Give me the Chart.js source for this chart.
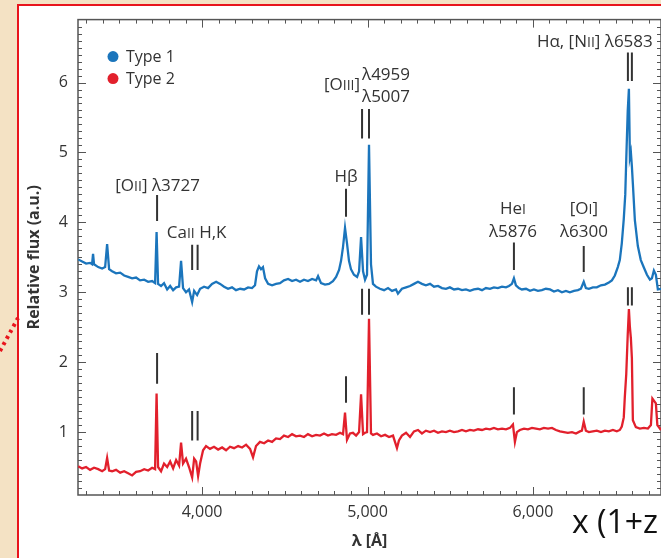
<!DOCTYPE html>
<html>
<head>
<meta charset="utf-8">
<script src="https://cdn.jsdelivr.net/npm/chart.js@4.4.0/dist/chart.umd.min.js"></script>
<style>
  html, body { margin: 0; padding: 0; width: 661px; height: 558px; overflow: hidden; background: #f4e2c4; }
  #frame { position: absolute; left: 17px; top: 4px; width: 660px; height: 560px; background: #fff;
           border-left: 2px solid #e8141c; border-top: 2px solid #e8141c; }
  #wrap { position: absolute; left: 0; top: 0; width: 661px; height: 558px; }
  #dots { position: absolute; left: 0; top: 0; }
  #zlabel { position: absolute; left: 572px; top: 499px; font: 32px 'Open Sans', sans-serif; color: #111; white-space: nowrap; }
</style>
</head>
<body>
<div id="frame"></div>
<svg id="dots" width="30" height="360"><line x1="0" y1="351" x2="18" y2="318" stroke="#e8141c" stroke-width="4" stroke-dasharray="3 4"/></svg>
<div id="wrap"><canvas id="myChart" width="661" height="558"></canvas></div>
<div id="zlabel">x (1+z</div>
<script>
// wavelengths (Angstrom) and relative flux
const type1Wave = [
  3251,3275,3299,3323,3335,3341,3347,3372,3396,3414,
  3426,3438,3456,3480,3505,3529,3553,3577,3601,3625,
  3650,3674,3698,3716,3725,3734,3752,3770,3789,3807,
  3825,3843,3861,3873,3885,3903,3921,3940,3952,3970,
  3988,4012,4036,4060,4085,4109,4133,4157,4181,4205,
  4230,4254,4278,4302,4320,4332,4344,4356,4368,4381,
  4399,4423,4447,4471,4495,4520,4544,4568,4592,4616,
  4640,4665,4689,4701,4719,4743,4767,4791,4810,4828,
  4840,4852,4864,4876,4888,4900,4918,4937,4949,4961,
  4973,4985,4997,5009,5021,5033,5051,5075,5100,5124,
  5148,5172,5184,5208,5233,5257,5281,5305,5329,5353,
  5378,5402,5426,5450,5474,5498,5523,5547,5571,5595,
  5619,5643,5668,5692,5716,5740,5764,5788,5813,5837,
  5855,5873,5885,5897,5915,5933,5958,5982,6006,6030,
  6054,6078,6103,6127,6151,6175,6199,6223,6248,6272,
  6290,6307,6320,6338,6362,6386,6411,6435,6459,6477,
  6495,6513,6525,6537,6549,6558,6564,6573,6580,6586,
  6592,6598,6604,6616,6634,6652,6671,6689,6707,6719,
  6731,6743,6755,6774
];
const type1Flux = [
  3.47,3.44,3.41,3.42,3.40,3.55,3.40,3.36,3.34,3.36,
  3.69,3.33,3.30,3.27,3.28,3.24,3.22,3.20,3.21,3.17,
  3.18,3.15,3.16,3.13,3.86,3.12,3.09,3.13,3.04,3.09,
  3.03,3.07,3.08,3.45,3.06,3.00,3.04,2.86,3.02,2.96,
  3.05,3.08,3.06,3.12,3.15,3.12,3.08,3.05,3.07,3.03,
  3.05,3.04,3.07,3.06,3.10,3.30,3.37,3.33,3.36,3.20,
  3.12,3.10,3.12,3.13,3.17,3.19,3.16,3.18,3.15,3.18,
  3.16,3.19,3.17,3.23,3.13,3.11,3.12,3.16,3.22,3.32,
  3.45,3.65,3.92,3.70,3.45,3.33,3.25,3.22,3.30,3.79,
  3.30,3.18,3.25,5.11,3.40,3.12,3.08,3.05,3.03,3.06,
  3.02,3.04,2.98,3.05,3.07,3.09,3.12,3.15,3.12,3.10,
  3.12,3.08,3.09,3.06,3.05,3.07,3.04,3.05,3.03,3.04,
  3.02,3.04,3.05,3.03,3.06,3.05,3.07,3.06,3.08,3.07,
  3.09,3.12,3.20,3.10,3.06,3.04,3.05,3.02,3.04,3.02,
  3.03,3.05,3.04,3.01,3.03,3.00,3.02,3.00,3.02,3.03,
  3.05,3.15,3.06,3.05,3.07,3.07,3.10,3.11,3.14,3.17,
  3.24,3.36,3.46,3.70,4.05,4.40,4.90,5.60,5.91,4.93,
  5.00,4.80,4.55,4.03,3.66,3.46,3.35,3.25,3.18,3.20,
  3.31,3.25,3.04,3.05
];
const type2Wave = [
  3251,3275,3299,3323,3347,3372,3396,3414,3426,3438,
  3456,3480,3505,3529,3553,3577,3601,3625,3650,3674,
  3698,3716,3725,3734,3752,3770,3789,3807,3825,3843,
  3861,3873,3885,3903,3921,3940,3952,3964,3976,3988,
  4006,4024,4048,4072,4097,4121,4145,4169,4193,4218,
  4242,4266,4290,4308,4326,4350,4375,4399,4423,4447,
  4471,4495,4520,4544,4568,4592,4616,4640,4665,4689,
  4713,4737,4761,4785,4810,4834,4852,4864,4876,4894,
  4912,4931,4949,4961,4973,4985,4997,5009,5021,5033,
  5057,5082,5106,5130,5154,5178,5190,5208,5233,5257,
  5281,5305,5329,5353,5378,5402,5426,5450,5474,5498,
  5523,5547,5571,5595,5619,5643,5668,5692,5716,5740,
  5764,5788,5813,5837,5861,5879,5891,5903,5921,5946,
  5970,5994,6018,6042,6066,6091,6115,6139,6163,6187,
  6211,6236,6260,6284,6296,6307,6320,6338,6362,6386,
  6411,6435,6459,6483,6507,6525,6537,6549,6555,6564,
  6573,6580,6586,6592,6598,6604,6622,6646,6671,6695,
  6713,6722,6731,6743,6752,6774
];
const type2Flux = [
  0.51,0.48,0.50,0.46,0.49,0.47,0.44,0.47,0.63,0.45,
  0.44,0.46,0.42,0.44,0.41,0.38,0.43,0.44,0.47,0.45,
  0.49,0.47,1.55,0.50,0.44,0.55,0.50,0.58,0.48,0.60,
  0.52,0.85,0.55,0.62,0.50,0.35,0.62,0.58,0.37,0.55,
  0.74,0.80,0.76,0.79,0.75,0.78,0.74,0.79,0.77,0.80,
  0.78,0.82,0.76,0.64,0.80,0.86,0.84,0.88,0.86,0.91,
  0.90,0.95,0.93,0.97,0.94,0.95,0.93,0.97,0.94,0.96,
  0.95,0.98,0.95,0.97,0.96,0.99,0.97,1.28,0.89,0.98,
  0.99,0.95,1.00,1.54,0.97,0.99,1.00,2.62,0.98,0.96,
  0.98,0.94,0.96,0.93,0.95,0.77,0.88,0.95,0.99,0.93,
  1.01,1.03,0.98,1.02,1.00,1.02,0.99,1.01,1.00,1.02,
  1.00,1.01,1.03,1.01,1.03,1.02,1.04,1.03,1.05,1.04,
  1.06,1.04,1.05,1.04,1.06,1.11,0.86,1.00,1.03,1.05,
  1.04,1.06,1.05,1.04,1.06,1.05,1.06,1.03,1.01,1.00,
  0.99,1.00,0.98,1.01,1.02,1.15,1.02,1.00,1.01,1.02,
  1.00,1.02,1.01,1.03,1.01,1.03,1.08,1.21,1.49,1.83,
  2.40,2.76,2.50,2.34,2.06,1.17,1.07,1.05,1.06,1.05,
  1.10,1.48,1.45,1.41,1.10,1.03
];
const xTicks = [4000, 5000, 6000];
const yTicks = [1, 2, 3, 4, 5, 6];

// emission line markers: wavelengths, flux span of the bar
const lineMarks = [
  { at: [3728], from: 4.02, to: 4.39 },
  { at: [3940, 3973], from: 3.32, to: 3.68 },
  { at: [4870], from: 4.08, to: 4.48 },
  { at: [4967, 5009], from: 5.20, to: 5.62 },
  { at: [5885], from: 3.32, to: 3.71 },
  { at: [6307], from: 3.29, to: 3.66 },
  { at: [6574, 6598], from: 6.02, to: 6.43 },
  { at: [3728], from: 1.69, to: 2.13 },
  { at: [3940, 3973], from: 0.88, to: 1.30 },
  { at: [4870], from: 1.42, to: 1.80 },
  { at: [4967, 5009], from: 2.68, to: 3.05 },
  { at: [5885], from: 1.25, to: 1.64 },
  { at: [6307], from: 1.25, to: 1.64 },
  { at: [6574, 6598], from: 2.81, to: 3.07 }
];
// {..} marks small capitals
const lineLabels = [
  { text: '[O{II}] λ3727', x: 3731, y: 4.53, align: 'center' },
  { text: 'Ca{II} H,K', x: 3967, y: 3.87, align: 'center' },
  { text: 'Hβ', x: 4870, y: 4.66, align: 'center' },
  { text: '[O{III}]', x: 4955, y: 5.98, align: 'right' },
  { text: 'λ4959', x: 4967, y: 6.12, align: 'left' },
  { text: 'λ5007', x: 4967, y: 5.81, align: 'left' },
  { text: 'He{I}', x: 5879, y: 4.21, align: 'center' },
  { text: 'λ5876', x: 5879, y: 3.88, align: 'center' },
  { text: '[O{I}]', x: 6308, y: 4.21, align: 'center' },
  { text: 'λ6300', x: 6308, y: 3.88, align: 'center' },
  { text: 'Hα, [N{II}] λ6583', x: 6374, y: 6.60, align: 'center' }
];

const fam = "'Open Sans', sans-serif";
const blue = '#1b75bc';
const red = '#e2202c';
const ink = '#333';

function drawRich(ctx, str, x, y, size, align) {
  const parts = str.split(/(\{[^}]*\})/).filter(Boolean).map(p =>
    p[0] === '{' ? { t: p.slice(1, -1), s: Math.round(size * 0.82) } : { t: p, s: size });
  let w = 0;
  parts.forEach(p => { ctx.font = p.s + 'px ' + fam; p.w = ctx.measureText(p.t).width; w += p.w; });
  let cx = align === 'left' ? x : align === 'right' ? x - w : x - w / 2;
  ctx.textAlign = 'left';
  ctx.textBaseline = 'alphabetic';
  parts.forEach(p => { ctx.font = p.s + 'px ' + fam; ctx.fillText(p.t, cx, y + size * 0.36); cx += p.w; });
}

const axisFrame = {
  id: 'axisFrame',
  beforeDatasetsDraw(chart) {
    const { ctx, chartArea: a, scales: { x, y } } = chart;
    ctx.save();
    ctx.strokeStyle = '#555';
    ctx.lineWidth = 1.5;
    ctx.strokeRect(a.left, a.top, a.right - a.left, a.bottom - a.top);
    ctx.lineWidth = 1;
    ctx.beginPath();
    for (let k = 33; k <= 67; k++) {
      const px = Math.round(x.getPixelForValue(k * 100)) + 0.5;
      const len = k % 10 === 0 ? 8 : 4;
      ctx.moveTo(px, a.bottom); ctx.lineTo(px, a.bottom - len);
      ctx.moveTo(px, a.top); ctx.lineTo(px, a.top + len);
    }
    for (let k = 2; k <= 68; k++) {
      const py = Math.round(y.getPixelForValue(k / 10)) + 0.5;
      const len = k % 10 === 0 ? 8 : 4;
      ctx.moveTo(a.left, py); ctx.lineTo(a.left + len, py);
      ctx.moveTo(a.right, py); ctx.lineTo(a.right - len, py);
    }
    ctx.stroke();
    ctx.restore();
  }
};

const annotations = {
  id: 'annotations',
  afterDatasetsDraw(chart) {
    const { ctx, chartArea: a, scales: { x, y } } = chart;
    ctx.save();
    ctx.strokeStyle = ink;
    ctx.lineWidth = 2;
    ctx.beginPath();
    lineMarks.forEach(m => m.at.forEach(w => {
      const px = x.getPixelForValue(w);
      ctx.moveTo(px, y.getPixelForValue(m.to));
      ctx.lineTo(px, y.getPixelForValue(m.from));
    }));
    ctx.stroke();
    ctx.fillStyle = ink;
    lineLabels.forEach(l => drawRich(ctx, l.text, x.getPixelForValue(l.x), y.getPixelForValue(l.y), 17, l.align));
    // legend
    chart.data.datasets.forEach((ds, i) => {
      const cy = a.top + 37 + i * 22;
      ctx.fillStyle = ds.borderColor;
      ctx.beginPath();
      ctx.arc(a.left + 35, cy, 5.5, 0, Math.PI * 2);
      ctx.fill();
      ctx.fillStyle = ink;
      drawRich(ctx, ds.label, a.left + 48, cy, 16, 'left');
    });
    ctx.restore();
  }
};

const ctx = document.getElementById('myChart').getContext('2d');
const chart = new Chart(ctx, {
  type: 'scatter',
  data: {
    datasets: [
      {
        label: 'Type 1',
        data: type1Wave.map((w, i) => ({ x: w, y: type1Flux[i] })),
        showLine: true,
        borderColor: blue,
        borderWidth: 2.3,
        pointRadius: 0
      },
      {
        label: 'Type 2',
        data: type2Wave.map((w, i) => ({ x: w, y: type2Flux[i] })),
        showLine: true,
        borderColor: red,
        borderWidth: 2.3,
        pointRadius: 0
      }
    ]
  },
  options: {
    responsive: false,
    animation: false,
    layout: { padding: { top: 15, right: 0, bottom: 0, left: 0 } },
    plugins: { legend: { display: false }, tooltip: { enabled: false } },
    scales: {
      x: {
        type: 'linear',
        min: 3250,
        max: 6774,
        grid: { display: false, drawTicks: false },
        border: { display: false },
        afterBuildTicks: s => { s.ticks = xTicks.map(v => ({ value: v })); },
        afterFit: s => { s.height = 63; },
        ticks: {
          padding: 8,
          color: ink,
          maxRotation: 0,
          font: { family: fam, size: 16 },
          callback: v => String(v).replace(/\B(?=(\d{3})+(?!\d))/g, ',')
        },
        title: {
          display: true,
          text: 'λ [Å]',
          color: ink,
          font: { family: fam, size: 16, weight: 'bold' },
          padding: { top: 0, bottom: 7 }
        }
      },
      y: {
        type: 'linear',
        min: 0.1,
        max: 6.9,
        grid: { display: false, drawTicks: false },
        border: { display: false },
        afterBuildTicks: s => { s.ticks = yTicks.map(v => ({ value: v })); },
        afterFit: s => { s.width = 78; },
        ticks: { padding: 10, color: ink, font: { family: fam, size: 16 } },
        title: {
          display: true,
          text: 'Relative flux (a.u.)',
          color: ink,
          font: { family: fam, size: 16, weight: 'bold' },
          padding: { top: 25, bottom: 0 }
        }
      }
    }
  },
  plugins: [axisFrame, annotations]
});
</script>
</body>
</html>
